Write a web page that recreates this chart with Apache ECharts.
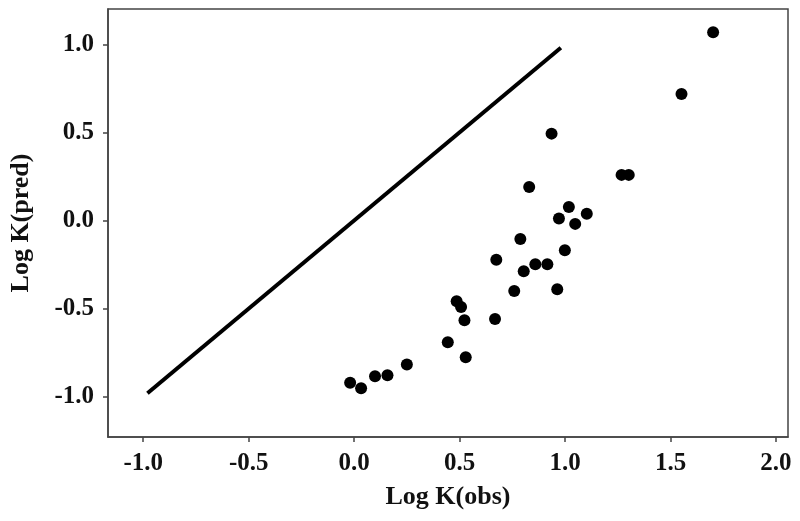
<!DOCTYPE html>
<html>
<head>
<meta charset="utf-8">
<script src="https://cdn.jsdelivr.net/npm/echarts@6/dist/echarts.min.js"></script>
<style>
html,body{margin:0;padding:0;background:#fff;}
#chart{width:800px;height:521px;}
</style>
</head>
<body>
<div id="chart"></div>
<script>
var logKObs = [-0.019, 0.033, 0.099, 0.158, 0.250, 0.444, 0.529, 0.486, 0.507, 0.523, 0.668, 0.674, 0.759, 0.788, 0.804, 0.830, 0.859, 0.916, 0.936, 0.963, 0.971, 0.999, 1.018, 1.048, 1.103, 1.268, 1.302, 1.552, 1.702];
var logKPred = [-0.920, -0.952, -0.884, -0.878, -0.817, -0.691, -0.776, -0.458, -0.490, -0.566, -0.558, -0.222, -0.400, -0.105, -0.288, 0.190, -0.248, -0.248, 0.493, -0.390, 0.011, -0.169, 0.077, -0.019, 0.039, 0.259, 0.259, 0.718, 1.068];
var lineX = [-0.98, 0.98];
var lineY = [-0.98, 0.98];
var xTicks = [-1.0, -0.5, 0.0, 0.5, 1.0, 1.5, 2.0];
var yTicks = [-1.0, -0.5, 0.0, 0.5, 1.0];

var chart = echarts.init(document.getElementById('chart'));
var font = 'Liberation Serif';
var axisCol = '#444';
function fmt(v){ return Number(v).toFixed(1); }
chart.setOption({
  animation: false,
  backgroundColor: '#fff',
  grid: { left: 107, right: 12, top: 9, bottom: 84, show: true, borderColor: axisCol, borderWidth: 1.5, backgroundColor: 'transparent' },
  xAxis: {
    type: 'value', min: -1.167, max: 2.057,
    name: 'Log K(obs)', nameLocation: 'middle', nameGap: 47,
    nameTextStyle: { fontFamily: font, fontWeight: 'bold', fontSize: 26, color: '#111' },
    axisLine: { show: true, onZero: false, lineStyle: { color: axisCol, width: 1.5 } },
    axisTick: { show: true, customValues: xTicks, length: 5, inside: false, lineStyle: { color: axisCol, width: 1.5 } },
    axisLabel: { customValues: xTicks, formatter: fmt, fontFamily: font, fontWeight: 'bold', fontSize: 25, color: '#111', margin: 14 },
    splitLine: { show: false }
  },
  yAxis: {
    type: 'value', min: -1.228, max: 1.2,
    name: 'Log K(pred)', nameLocation: 'middle', nameGap: 74,
    nameTextStyle: { fontFamily: font, fontWeight: 'bold', fontSize: 26, color: '#111' },
    axisLine: { show: true, onZero: false, lineStyle: { color: axisCol, width: 1.5 } },
    axisTick: { show: true, customValues: yTicks, length: 5, inside: false, lineStyle: { color: axisCol, width: 1.5 } },
    axisLabel: { customValues: yTicks, formatter: fmt, fontFamily: font, fontWeight: 'bold', fontSize: 25, color: '#111', margin: 14 },
    splitLine: { show: false }
  },
  series: [
    {
      type: 'line',
      data: lineX.map(function(x, i){ return [x, lineY[i]]; }),
      symbol: 'none',
      lineStyle: { color: '#000', width: 4 },
      z: 2
    },
    {
      type: 'scatter',
      data: logKObs.map(function(x, i){ return [x, logKPred[i]]; }),
      symbol: 'circle',
      symbolSize: 12,
      itemStyle: { color: '#000', opacity: 1 },
      z: 3
    }
  ]
});
</script>
</body>
</html>
